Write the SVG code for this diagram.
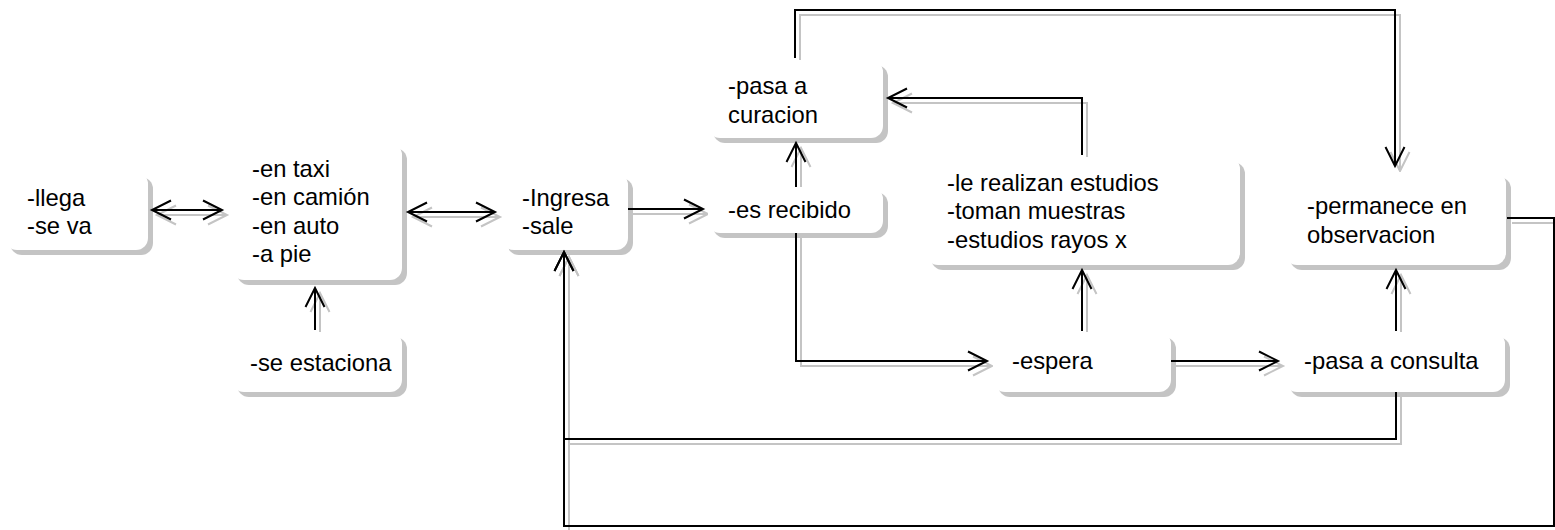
<svg xmlns="http://www.w3.org/2000/svg" width="1555" height="530" viewBox="0 0 1555 530">
<style>
.bg{fill:#ffffff}
.box{fill:#ffffff}
.sh{fill:#c4c4c4}
.t{font-family:"Liberation Sans",Arial,sans-serif;font-size:23px;fill:#000}
.ln{fill:none;stroke:#000;stroke-width:2}
.lns{fill:none;stroke:#c4c4c4;stroke-width:2}
.a{marker-end:url(#ah)}
.aa{marker-end:url(#ah);marker-start:url(#ah)}
.as{marker-end:url(#ahs)}
.aas{marker-end:url(#ahs);marker-start:url(#ahs)}
</style>
<defs>
<marker id="ah" markerUnits="userSpaceOnUse" markerWidth="24" markerHeight="24" refX="20" refY="11" orient="auto-start-reverse" overflow="visible">
<path d="M1,1.5 L20,11 L1,20.5" fill="none" stroke="#000" stroke-width="2"/>
</marker>
<marker id="ahs" markerUnits="userSpaceOnUse" markerWidth="24" markerHeight="24" refX="20" refY="11" orient="auto-start-reverse" overflow="visible">
<path d="M1,1.5 L20,11 L1,20.5" fill="none" stroke="#c4c4c4" stroke-width="2"/>
</marker>
</defs>
<rect class="bg" x="0" y="0" width="1555" height="530"/>

<g id="connector-shadows" transform="translate(5,5)">
<path class="lns aas" d="M152,210 L222,210"/>
<path class="lns as" d="M315,330 L315,288"/>
<path class="lns aas" d="M408,212 L495,212"/>
<path class="lns as" d="M628,209 L703,209"/>
<path class="lns as" d="M796,187 L796,143"/>
<path class="lns as" d="M1082,155 L1082,98 L888,98"/>
<path class="lns as" d="M795,58 L795,10 L1395,10 L1395,166"/>
<path class="lns as" d="M796,233 L796,361 L987,361"/>
<path class="lns as" d="M1082,331 L1082,270"/>
<path class="lns as" d="M1171,361 L1278,361"/>
<path class="lns as" d="M1396,331 L1396,270"/>
<path class="lns as" d="M1396,392 L1396,439 L564,439 L564,252"/>
<path class="lns as" d="M1507,218 L1554,218 L1554,526 L564,526 L564,252"/>
</g>

<g id="n-llega">
<rect class="sh" x="10" y="177" width="143" height="78" rx="12"/>
<rect class="box" x="5" y="172" width="143" height="78" rx="12"/>
<g transform="translate(27,0) scale(1.035,1)"><text class="t"><tspan x="0" y="206">-llega</tspan><tspan x="0" y="234">-se va</tspan></text></g>
</g>

<g id="n-transporte">
<rect class="sh" x="237" y="148" width="170" height="137" rx="12"/>
<rect class="box" x="232" y="143" width="170" height="137" rx="12"/>
<g transform="translate(252,0) scale(1.035,1)"><text class="t"><tspan x="0" y="177">-en taxi</tspan><tspan x="0" y="205">-en camión</tspan><tspan x="0" y="234">-en auto</tspan><tspan x="0" y="262">-a pie</tspan></text></g>
</g>

<g id="n-estaciona">
<rect class="sh" x="237" y="337" width="170" height="60" rx="12"/>
<rect class="box" x="232" y="332" width="170" height="60" rx="12"/>
<g transform="translate(250,0) scale(1.035,1)"><text class="t" x="0" y="371">-se estaciona</text></g>
</g>

<g id="n-ingresa">
<rect class="sh" x="507" y="178" width="126" height="77" rx="12"/>
<rect class="box" x="502" y="173" width="126" height="77" rx="12"/>
<g transform="translate(522,0) scale(1.035,1)"><text class="t"><tspan x="0" y="206">-Ingresa</tspan><tspan x="0" y="234">-sale</tspan></text></g>
</g>

<g id="n-recibido">
<rect class="sh" x="713" y="192" width="175" height="46" rx="12"/>
<rect class="box" x="708" y="187" width="175" height="46" rx="12"/>
<g transform="translate(728,0) scale(1.035,1)"><text class="t" x="0" y="218">-es recibido</text></g>
</g>

<g id="n-curacion">
<rect class="sh" x="713" y="65" width="175" height="78" rx="12"/>
<rect class="box" x="708" y="60" width="175" height="78" rx="12"/>
<g transform="translate(728,0) scale(1.035,1)"><text class="t"><tspan x="0" y="94">-pasa a</tspan><tspan x="0" y="123">curacion</tspan></text></g>
</g>

<g id="n-estudios">
<rect class="sh" x="931" y="162" width="314" height="108" rx="12"/>
<rect class="box" x="926" y="157" width="314" height="108" rx="12"/>
<g transform="translate(947,0) scale(1.035,1)"><text class="t"><tspan x="0" y="191">-le realizan estudios</tspan><tspan x="0" y="219">-toman muestras</tspan><tspan x="0" y="248">-estudios rayos x</tspan></text></g>
</g>

<g id="n-observacion">
<rect class="sh" x="1290" y="177" width="221" height="93" rx="12"/>
<rect class="box" x="1285" y="172" width="221" height="93" rx="12"/>
<g transform="translate(1307,0) scale(1.035,1)"><text class="t"><tspan x="0" y="214">-permanece en</tspan><tspan x="0" y="243">observacion</tspan></text></g>
</g>

<g id="n-espera">
<rect class="sh" x="998" y="337" width="178" height="60" rx="12"/>
<rect class="box" x="993" y="332" width="178" height="60" rx="12"/>
<g transform="translate(1012,0) scale(1.035,1)"><text class="t" x="0" y="369">-espera</text></g>
</g>

<g id="n-consulta">
<rect class="sh" x="1290" y="337" width="220" height="60" rx="12"/>
<rect class="box" x="1285" y="332" width="220" height="60" rx="12"/>
<g transform="translate(1304,0) scale(1.035,1)"><text class="t" x="0" y="369">-pasa a consulta</text></g>
</g>

<g id="connectors">
<path class="ln aa" d="M152,210 L222,210"/>
<path class="ln a" d="M315,330 L315,288"/>
<path class="ln aa" d="M408,212 L495,212"/>
<path class="ln a" d="M628,209 L703,209"/>
<path class="ln a" d="M796,187 L796,143"/>
<path class="ln a" d="M1082,155 L1082,98 L888,98"/>
<path class="ln a" d="M795,58 L795,10 L1395,10 L1395,166"/>
<path class="ln a" d="M796,233 L796,361 L987,361"/>
<path class="ln a" d="M1082,331 L1082,270"/>
<path class="ln a" d="M1171,361 L1278,361"/>
<path class="ln a" d="M1396,331 L1396,270"/>
<path class="ln a" d="M1396,392 L1396,439 L564,439 L564,252"/>
<path class="ln a" d="M1507,218 L1554,218 L1554,526 L564,526 L564,252"/>
</g>
</svg>
